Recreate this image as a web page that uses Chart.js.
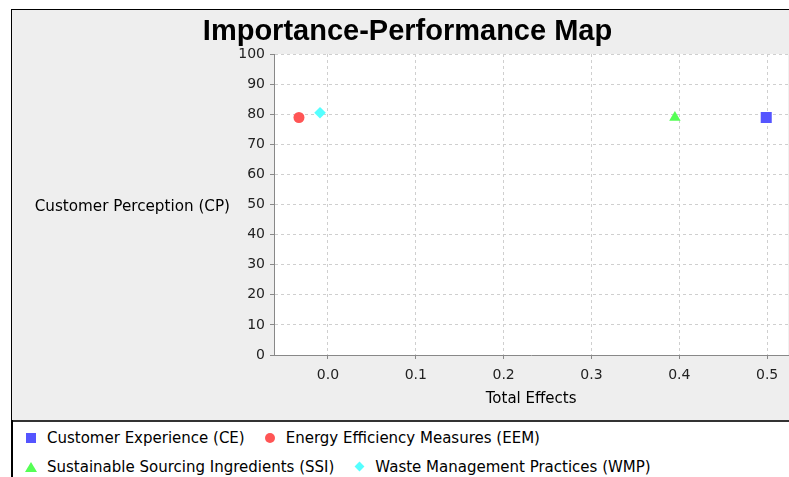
<!DOCTYPE html>
<html><head><meta charset="utf-8">
<script src="https://cdn.jsdelivr.net/npm/chart.js@4/dist/chart.umd.min.js"></script>
<style>
html,body{margin:0;padding:0;width:789px;height:477px;overflow:hidden;background:#fff;}
#frame{position:absolute;left:11px;top:9px;width:800px;height:470px;border-top:1px solid #000;border-left:1px solid #000;}
#panel{position:absolute;left:12px;top:10px;width:784px;height:410px;background:#eeeeee;}
#sep{position:absolute;left:11px;top:420px;width:790px;height:2px;background:#333;}
#lborder{position:absolute;left:11px;top:420px;width:2px;height:60px;background:#000;}
#legend{position:absolute;left:24px;top:423px;width:700px;display:flex;flex-wrap:wrap;font:15px "DejaVu Sans",sans-serif;color:#000;}
.item{display:flex;align-items:center;height:29px;margin-right:18px;}
.mk{width:14px;height:14px;display:flex;align-items:center;justify-content:center;margin-right:9px;}
.txt{white-space:nowrap;}
</style></head>
<body>
<div id="frame"></div>
<div id="panel"><canvas id="c" width="784" height="410"></canvas></div>
<div id="sep"></div>
<div id="lborder"></div>
<div id="legend"></div>
<script>
const chartTitle = 'Importance-Performance Map';
const xTitle = 'Total Effects';
const yTitle = 'Customer Perception (CP)';
const seriesLabels = ['Customer Experience (CE)', 'Energy Efficiency Measures (EEM)', 'Sustainable Sourcing Ingredients (SSI)', 'Waste Management Practices (WMP)'];
const totalEffects = [0.499, -0.033, 0.395, -0.009];
const performance = [78.9, 78.9, 78.9, 80.5];
const seriesColors = ['#5555ff', '#ff5555', '#55ff55', '#55ffff'];
const seriesShapes = ['rect', 'circle', 'triangle', 'rectRot'];
const shapeRadius = [7.8, 5.5, 6.6, 5.8];
const xTicks = [0.0, 0.1, 0.2, 0.3, 0.4, 0.5];
const yTicks = [0, 10, 20, 30, 40, 50, 60, 70, 80, 90, 100];

const datasets = seriesLabels.map((lab, i) => ({
  label: lab,
  data: [{x: totalEffects[i], y: performance[i]}],
  pointStyle: seriesShapes[i],
  pointRadius: shapeRadius[i],
  pointHoverRadius: shapeRadius[i],
  backgroundColor: seriesColors[i],
  borderColor: seriesColors[i],
  borderWidth: 0
}));

const decor = {
  id: 'decor',
  beforeDraw(chart) {
    const {ctx, chartArea: a} = chart;
    ctx.save();
    ctx.fillStyle = '#ffffff';
    ctx.fillRect(a.left, a.top, a.right - a.left, a.bottom - a.top);
    ctx.restore();
  },
  afterDraw(chart) {
    const {ctx, chartArea: a} = chart;
    ctx.save();
    ctx.fillStyle = '#000';
    ctx.font = 'bold 29px "Liberation Sans", Arial, sans-serif';
    ctx.textAlign = 'center';
    ctx.textBaseline = 'middle';
    ctx.fillText(chartTitle, 395.5, 22);
    ctx.font = '15.2px "DejaVu Sans", sans-serif';
    ctx.textAlign = 'right';
    ctx.fillText(yTitle, a.left - 44, (a.top + a.bottom) / 2 + 3);
    ctx.restore();
  }
};

new Chart(document.getElementById('c'), {
  type: 'scatter',
  data: {datasets},
  options: {
    responsive: false,
    animation: false,
    devicePixelRatio: 1,
    layout: {padding: {top: 44, left: 0, right: 0, bottom: 0}},
    plugins: {legend: {display: false}, title: {display: false}, tooltip: {enabled: false}},
    scales: {
      x: {
        type: 'linear', min: -0.0614, max: 0.524,
        afterBuildTicks: s => { s.ticks = xTicks.map(v => ({value: v})); },
        afterFit: s => { s.height = 65; },
        ticks: {callback: v => Number(v).toFixed(1), font: {family: 'DejaVu Sans', size: 14}, color: '#222', padding: 8, maxRotation: 0, autoSkip: false},
        grid: {color: '#cfcfcf', tickColor: '#888', tickLength: 4, tickBorderDash: []},
        border: {color: '#888', width: 1, dash: [3, 3]},
        title: {display: true, text: xTitle, font: {family: 'DejaVu Sans', size: 15}, color: '#000', padding: {top: 0, bottom: 12}}
      },
      y: {
        type: 'linear', min: 0, max: 100,
        afterBuildTicks: s => { s.ticks = yTicks.map(v => ({value: v})); },
        afterFit: s => { s.width = 262; },
        ticks: {font: {family: 'DejaVu Sans', size: 14}, color: '#222', padding: 5, autoSkip: false},
        grid: {color: c => (c.tick && c.tick.value === 0) ? 'rgba(0,0,0,0)' : '#cfcfcf', tickColor: '#888', tickLength: 4, tickBorderDash: []},
        border: {color: '#888', width: 1, dash: [3, 3]}
      }
    }
  },
  plugins: [decor]
});

// HTML legend built from the series arrays
const legend = document.getElementById('legend');
seriesLabels.forEach((lab, i) => {
  const item = document.createElement('div'); item.className = 'item';
  const mk = document.createElement('div'); mk.className = 'mk';
  const sh = document.createElement('div');
  const col = seriesColors[i];
  if (seriesShapes[i] === 'rect') { sh.style.cssText = `width:10px;height:10px;background:${col}`; }
  else if (seriesShapes[i] === 'circle') { sh.style.cssText = `width:10px;height:10px;border-radius:50%;background:${col}`; }
  else if (seriesShapes[i] === 'triangle') { sh.style.cssText = `width:0;height:0;border-left:6px solid transparent;border-right:6px solid transparent;border-bottom:10px solid ${col}`; }
  else { sh.style.cssText = `width:7px;height:7px;background:${col};transform:rotate(45deg)`; }
  mk.appendChild(sh);
  const t = document.createElement('span'); t.className = 'txt'; t.textContent = lab;
  item.appendChild(mk); item.appendChild(t);
  legend.appendChild(item);
});
</script>
</body></html>
